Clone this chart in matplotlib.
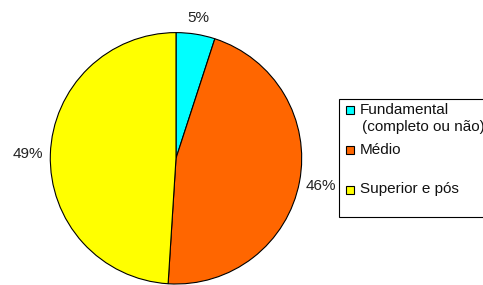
import matplotlib
matplotlib.use("Agg")
import matplotlib.pyplot as plt
from matplotlib.patches import Rectangle

plt.rcParams['font.family'] = ['Liberation Sans', 'DejaVu Sans']

categories = ["Fundamental\n(completo ou não)", "Médio", "Superior e pós"]
values = [5, 46, 49]
colors = ["#00FFFF", "#FF6600", "#FFFF00"]
# distance of each percentage label from the centre, in radii
label_dist = [1.134, 1.17, 1.177]

W, H = 483, 285
fig = plt.figure(figsize=(W / 100, H / 100), dpi=100)

# pie centre (176, 158) px from top-left, radius 126 px
cx, cy, r = 176, 158.3, 125.7
ax = fig.add_axes([(cx - r) / W, (H - cy - r) / H, 2 * r / W, 2 * r / H])

pct_labels = [f"{v}%" for v in values]
wedges, texts = ax.pie(values, colors=colors, startangle=90, counterclock=False,
                       labels=pct_labels, labeldistance=1.0,
                       wedgeprops=dict(edgecolor="black", linewidth=0.8),
                       textprops=dict(fontsize=11, color="#222222"))
for t, d in zip(texts, label_dist):
    x, y = t.get_position()
    t.set_position((x * d, y * d))
    t.set_ha("center")
    t.set_va("center")
for w in wedges:
    w.set_clip_on(False)
ax.set_xlim(-1, 1)
ax.set_ylim(-1, 1)
ax.set_aspect("equal")
ax.axis("off")


def fx(px):
    return px / W


def fy(py):
    return 1 - py / H


# legend, drawn by hand so the handle sits on the first line as in the reference
frame = Rectangle((fx(339), fy(216.5)), fx(520) - fx(339), fy(99) - fy(216.5),
                  transform=fig.transFigure, facecolor="white", edgecolor="black",
                  linewidth=0.8, clip_on=False)
fig.patches.append(frame)

rows = [110, 150, 189.5]
for label, col, y in zip(categories, colors, rows):
    sq = Rectangle((fx(346), fy(y + 4)), fx(8), 8 / H, transform=fig.transFigure,
                   facecolor=col, edgecolor="black", linewidth=0.8)
    fig.patches.append(sq)
    lines = label.split("\n")
    for i, line in enumerate(lines):
        fig.text(fx(360 + 2.5 * i), fy(y + i * 17), line, fontsize=11, va="center",
                 ha="left", color="#111111")

fig.savefig("out.png", dpi=100)
